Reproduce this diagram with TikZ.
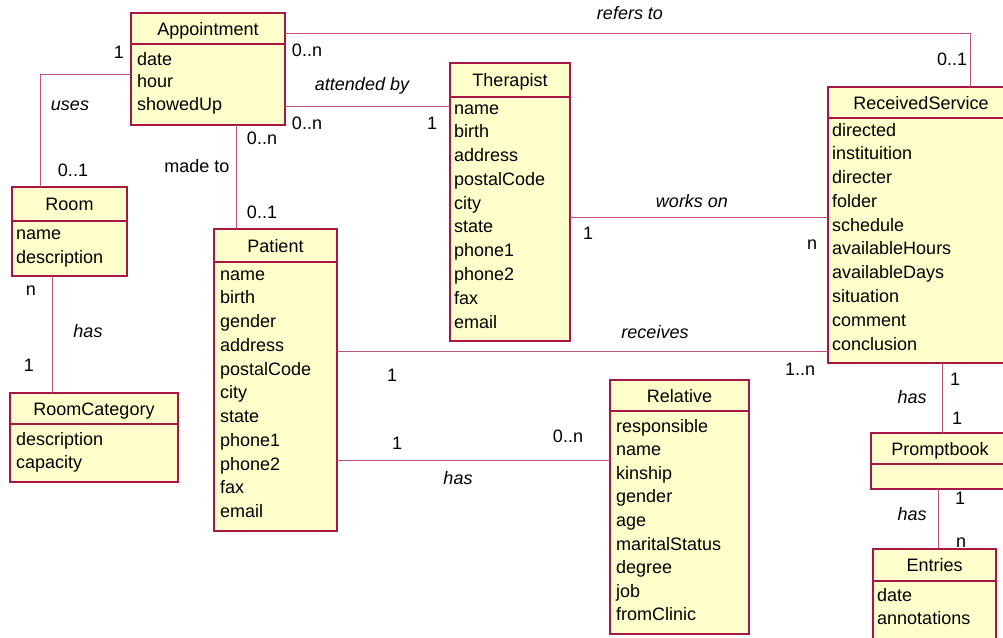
\documentclass[tikz,border=0pt]{standalone}
\usepackage{fontspec}
\setmainfont{Liberation Sans}
\usetikzlibrary{calc}
\definecolor{boxfill}{RGB}{255,255,204}
\definecolor{boxdraw}{RGB}{168,22,70}
\definecolor{linecol}{RGB}{192,80,118}
\newcommand{\txtfont}{\fontsize{18}{20}\selectfont}
\tikzset{
  headbox/.style={draw=boxdraw, fill=boxfill, line width=1.1pt, inner sep=0pt, outer sep=0pt,
    text height=13pt, text depth=0pt, font=\txtfont},
  bodybox/.style={draw=boxdraw, fill=boxfill, line width=1.1pt, inner sep=0pt, outer sep=0pt},
  attr/.style={anchor=base west, inner sep=0pt, font=\txtfont},
  conn/.style={draw=linecol, line width=1pt},
  mult/.style={anchor=base, inner sep=0pt, font=\txtfont},
  assoc/.style={anchor=base, inner sep=0pt, font=\txtfont\itshape},
}
% #1 name, #2 x1, #3 y1, #4 x2, #5 ydiv, #6 y2, #7 title
\newcommand{\umlbox}[7]{%
  \node[headbox, minimum width={#4pt-#2pt}, minimum height={#5pt-#3pt}, anchor=north west] (#1) at (#2,#3) {#7};
  \node[bodybox, minimum width={#4pt-#2pt}, minimum height={#6pt-#5pt}, anchor=north west] (#1-b) at (#1.south west) {};
}
% #1 prefix, #2 x, #3 first baseline, #4 spacing, #5 list
\newcommand{\attrlist}[5]{%
  \foreach \a [count=\i] in {#5} \node[attr] (#1-\i) at (#2,{#3+(\i-1)*#4}) {\a};
}
\begin{document}
\begin{tikzpicture}[x=1pt,y=-1pt]
\useasboundingbox (0,0) rectangle (1003,637);
% boxes
\umlbox{app}{131}{13}{285}{44}{125}{Appointment}
\umlbox{room}{12}{187}{127}{221}{276}{Room}
\umlbox{rc}{10}{393}{178}{424}{482}{RoomCategory}
\umlbox{pat}{214}{229}{337}{262}{531}{Patient}
\umlbox{ther}{450}{63}{570}{97}{341}{Therapist}
\umlbox{rs}{828}{87}{1014}{118}{363}{ReceivedService}
\umlbox{rel}{610}{380}{749}{411}{634}{Relative}
\umlbox{pb}{871}{433}{1009}{464}{489}{Promptbook}
\umlbox{ent}{873}{549}{996}{581}{660}{Entries}
% attributes
\attrlist{appa}{137}{65}{22.5}{date,hour,showedUp}
\attrlist{rooma}{16}{239}{24}{name,description}
\attrlist{rca}{16}{445}{23.5}{description,capacity}
\attrlist{pata}{220}{280}{23.75}{name,birth,gender,address,postalCode,city,state,phone1,phone2,fax,email}
\attrlist{thera}{454}{114}{23.78}{name,birth,address,postalCode,city,state,phone1,phone2,fax,email}
\attrlist{rsa}{832}{136}{23.78}{directed,instituition,directer,folder,schedule,availableHours,availableDays,situation,comment,conclusion}
\attrlist{rela}{616}{432}{23.6}{responsible,name,kinship,gender,age,maritalStatus,degree,job,fromClinic}
\attrlist{enta}{877}{601}{23.5}{date,annotations}
% connectors
\draw[conn] ($(app.north east)+(0,20)$) -| ($(rs.north west)+(142,0)$);
\draw[conn] ($(app-b.north east)+(0,62)$) coordinate (c1) -- (c1 -| ther-b.west);
\draw[conn] ($(app-b.north west)+(0,30)$) -| ($(room.north west)+(28,0)$);
\draw[conn] ($(app-b.south west)+(105,0)$) coordinate (c2) -- (c2 |- pat.north);
\draw[conn] ($(room-b.south west)+(40,0)$) coordinate (c3) -- (c3 |- rc.north);
\draw[conn] ($(ther-b.north east)+(0,120)$) coordinate (c4) -- (c4 -| rs-b.west);
\draw[conn] ($(pat-b.north east)+(0,89)$) coordinate (c5) -- (c5 -| rs-b.west);
\draw[conn] ($(pat-b.north east)+(0,198)$) coordinate (c6) -- (c6 -| rel-b.west);
\draw[conn] ($(rs-b.south west)+(114,0)$) coordinate (c7) -- (c7 |- pb.north);
\draw[conn] ($(pb-b.south west)+(67,0)$) coordinate (c8) -- (c8 |- ent.north);
% labels (base = visual centre + 6.5)
\node[mult] (l1) at (119,58.5) {1};
\node[assoc] (l2) at (70,110.5) {uses};
\node[mult] (l3) at (73,176.5) {0..1};
\node[mult] (l4) at (197,172.5) {made to};
\node[mult] (l5) at (307,56.5) {0..n};
\node[mult] (l6) at (307,129.5) {0..n};
\node[mult] (l7) at (262,144.5) {0..n};
\node[assoc] (l8) at (362,90.5) {attended by};
\node[mult] (l9) at (432,129.5) {1};
\node[assoc] (l10) at (630,19.5) {refers to};
\node[mult] (l11) at (952,65.5) {0..1};
\node[assoc] (l12) at (692,207.5) {works on};
\node[mult] (l13) at (588,239.5) {1};
\node[mult] (l14) at (812,249.5) {n};
\node[assoc] (l15) at (655,338.5) {receives};
\node[mult] (l16) at (800,375.5) {1..n};
\node[mult] (l17) at (392,381.5) {1};
\node[mult] (l18) at (397,449.5) {1};
\node[mult] (l19) at (568,442.5) {0..n};
\node[assoc] (l20) at (458,484.5) {has};
\node[mult] (l21) at (262,218.5) {0..1};
\node[mult] (l22) at (31,295.5) {n};
\node[assoc] (l23) at (88,337.5) {has};
\node[mult] (l24) at (29,371.5) {1};
\node[mult] (l25) at (955,385.5) {1};
\node[assoc] (l26) at (912,403.5) {has};
\node[mult] (l27) at (957,424.5) {1};
\node[mult] (l28) at (960,504.5) {1};
\node[assoc] (l29) at (912,520.5) {has};
\node[mult] (l30) at (961,547.5) {n};
\end{tikzpicture}
\end{document}
